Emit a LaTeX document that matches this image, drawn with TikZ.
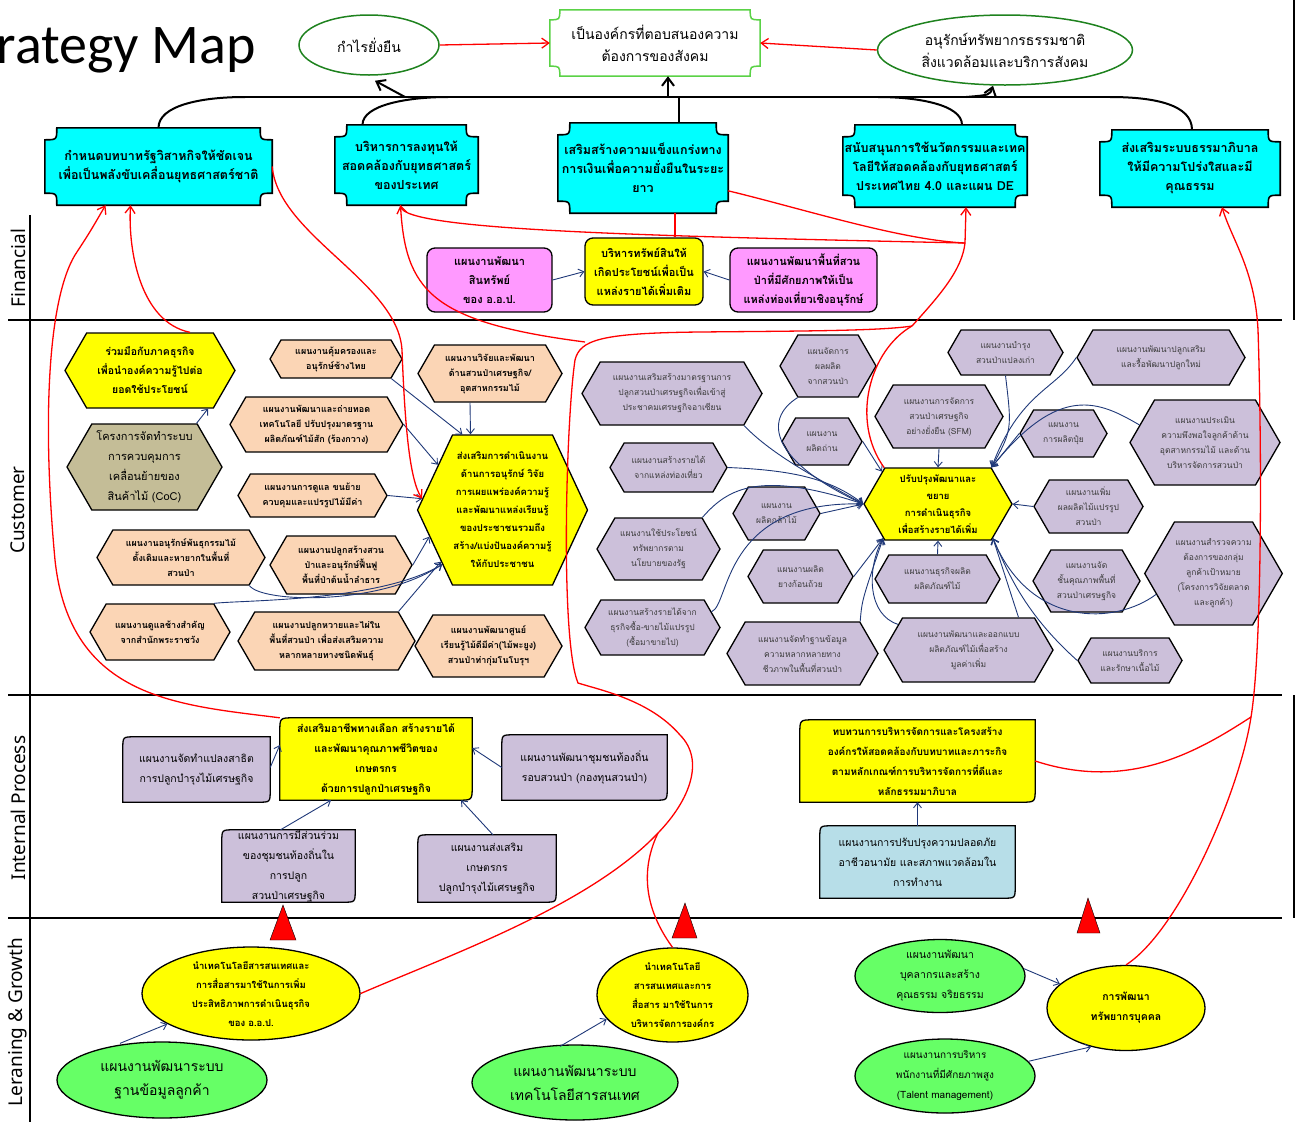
\documentclass[tikz,border=0pt]{standalone}
\usepackage{fontspec}
\setmainfont[Script=Thai]{Loma}
\newfontfamily\titlefont{Carlito}
\newfontfamily\rowfont{Noto Sans}
\usepackage{tikz}
\usetikzlibrary{shapes.geometric, shapes.symbols, calc, backgrounds, arrows.meta}
\definecolor{cyanbox}{RGB}{0,255,255}
\definecolor{yelbox}{RGB}{255,255,0}
\definecolor{peachbox}{RGB}{251,213,181}
\definecolor{lavbox}{RGB}{204,192,218}
\definecolor{khakibox}{RGB}{196,189,151}
\definecolor{pinkbox}{RGB}{255,153,255}
\definecolor{greenell}{RGB}{102,255,102}
\definecolor{bluebox}{RGB}{183,222,232}
\definecolor{ringgreen}{RGB}{30,130,30}
\definecolor{plaquegreen}{RGB}{90,210,70}
\definecolor{linknavy}{RGB}{31,56,120}
\definecolor{lavtext}{RGB}{60,60,60}

% box with scooped corners, drawn behind a node
\newcommand{\plaque}[3][]{%
  \begin{scope}[on background layer]
  \draw[#1] ($(#2.north west)+(#3,0)$) -- ($(#2.north east)+(-#3,0)$)
    .. controls ($(#2.north east)+(-#3,#3)$) .. ($(#2.north east)+(0,#3)$)
    -- ($(#2.south east)+(0,-#3)$)
    .. controls ($(#2.south east)+(-#3,-#3)$) .. ($(#2.south east)+(-#3,0)$)
    -- ($(#2.south west)+(#3,0)$)
    .. controls ($(#2.south west)+(#3,-#3)$) .. ($(#2.south west)+(0,-#3)$)
    -- ($(#2.north west)+(0,#3)$)
    .. controls ($(#2.north west)+(#3,#3)$) .. ($(#2.north west)+(#3,0)$) -- cycle;
  \end{scope}}
% box with two rounded corners (top left, bottom right)
\newcommand{\ipshape}[3][]{%
  \begin{scope}[on background layer]
  \draw[#1] ($(#2.north west)+(0,#3)$) .. controls (#2.north west) .. ($(#2.north west)+(#3,0)$)
    -- (#2.north east) -- ($(#2.south east)+(0,-#3)$)
    .. controls (#2.south east) .. ($(#2.south east)+(-#3,0)$)
    -- (#2.south west) -- cycle;
  \end{scope}}

\tikzset{
  goal/.style={align=center, inner sep=0pt, font=\fontsize{12.5}{19}\selectfont\bfseries},
  top ring/.style={ellipse, draw=ringgreen, line width=1.5pt, fill=white, align=center, inner sep=0pt, font=\fontsize{14}{22}\selectfont},
  finbox/.style={rectangle, rounded corners=8pt, draw, line width=1.3pt, align=center, inner sep=1pt, font=\fontsize{11}{19}\selectfont\bfseries},
  hexbox/.style={signal, signal to=east and west, signal pointer angle=120, draw, line width=1.3pt, align=center, inner sep=1pt},
  peach/.style={hexbox, fill=peachbox, font=\fontsize{9}{15}\selectfont\bfseries},
  lav/.style={hexbox, fill=lavbox, text=lavtext, font=\fontsize{8.5}{15}\selectfont},
  hexyel/.style={hexbox, fill=yelbox, font=\fontsize{9.5}{18}\selectfont\bfseries},
  ipbox/.style={align=center, inner sep=0pt, font=\fontsize{10.5}{20}\selectfont},
  ring/.style={ellipse, draw, line width=1.3pt, align=center, inner sep=0pt},
  link/.style={-{Straight Barb[length=5pt,width=8pt]}, draw=linknavy, line width=0.9pt},
  redlink/.style={draw=red, line width=1.3pt},
  redtip/.style={-{Straight Barb[length=7pt,width=10pt]}},
  bustip/.style={-{Straight Barb[length=8pt,width=12pt]}},
  rowlabel/.style={rotate=90, font=\rowfont\fontsize{19}{22}\selectfont},
}

\begin{document}
\begin{tikzpicture}[x=1pt, y=-1pt]
    \useasboundingbox (0,0) rectangle (1297,1122);
    \clip (0,0) rectangle (1297,1122);

    % Title and row labels
    \node[anchor=base east, inner sep=0pt, font=\titlefont\fontsize{56}{60}\selectfont] (title) at (256,63) {Strategy Map};
    \node[rowlabel] (rowfin) at (18,268) {Financial};
    \node[rowlabel] (rowcus) at (18,510) {Customer};
    \node[rowlabel] (rowint) at (18,808) {Internal Process};
    \node[rowlabel] (rowlrn) at (18,1022) {Leraning \& Growth};

    % Frame
    \draw[line width=2.5pt] (30,215) -- (30,1122);
    \draw[line width=2.5pt] (8,320) -- (1282,320);
    \draw[line width=2.5pt] (8,695) -- (1282,695);
    \draw[line width=2.5pt] (8,918) -- (1282,918);
    \draw[line width=2.5pt] (1294,0) -- (1294,320);
    \draw[line width=2.5pt] (1294,695) -- (1294,918);

    % Top goals
    \node[top ring, minimum width=140, minimum height=60] (T1) at (369,45) {กำไรยั่งยืน};
    \node[goal, font=\fontsize{14}{22}\selectfont, minimum width=210, minimum height=66] (T2) at (655,43) {เป็นองค์กรที่ตอบสนองความ\\ต้องการของสังคม};
    \plaque[draw=plaquegreen, line width=1.5pt, fill=white]{T2}{10}
    \node[top ring, minimum width=255, minimum height=70] (T3) at (1005,50) {อนุรักษ์ทรัพยากรธรรมชาติ\\สิ่งแวดล้อมและบริการสังคม};
    \draw[redlink, redtip] (T1.east) -- (T2.west);
    \draw[redlink, redtip] (T3.west) -- (T2.east);

    % Strategic issues
    \node[goal, minimum width=227, minimum height=77] (S1) at (158.5,166.5) {กำหนดบทบาทรัฐวิสาหกิจให้ชัดเจน\\เพื่อเป็นพลังขับเคลื่อนยุทธศาสตร์ชาติ};
    \plaque[draw, line width=1.6pt, fill=cyanbox]{S1}{12}
    \node[goal, minimum width=143, minimum height=80] (S2) at (406.5,165) {บริหารการลงทุนให้\\สอดคล้องกับยุทธศาสตร์\\ของประเทศ};
    \plaque[draw, line width=1.6pt, fill=cyanbox]{S2}{12}
    \node[goal, minimum width=170, minimum height=90] (S3) at (643,168) {เสริมสร้างความแข็งแกร่งทาง\\การเงินเพื่อความยั่งยืนในระยะ\\ยาว};
    \plaque[draw, line width=1.6pt, fill=cyanbox]{S3}{12}
    \node[goal, minimum width=184, minimum height=82] (S4) at (935,166) {สนับสนุนการใช้นวัตกรรมและเทค\\โลยีให้สอดคล้องกับยุทธศาสตร์\\ประเทศไทย 4.0 และแผน DE};
    \plaque[draw, line width=1.6pt, fill=cyanbox]{S4}{12}
    \node[goal, minimum width=180, minimum height=77] (S5) at (1190,168.5) {ส่งเสริมระบบธรรมาภิบาล\\ให้มีความโปร่งใสและมี\\คุณธรรม};
    \plaque[draw, line width=1.6pt, fill=cyanbox]{S5}{12}

    % Bus to the goals
    \coordinate (busL) at (245,97);
    \coordinate (busR) at (1110,97);
    \coordinate (bus2) at (448,97);
    \coordinate (bus4) at (878,97);
    \coordinate (busT1) at (405,97);
    \coordinate (busT3) at (966,97);
    \draw[line width=2pt] (busL) -- (busR);
    \draw[line width=2pt] (S1.north) .. controls +(0,-22) and +(-45,0) .. (busL);
    \draw[line width=2pt] ($(S2.north)+(-44,0)$) .. controls +(0,-20) and +(-40,0) .. (bus2);
    \draw[line width=2pt] ($(S3.north)+(36,0)$) -- ($(S3.north)+(36,-26)$);
    \draw[line width=2pt] ($(S4.north)+(27,0)$) .. controls +(0,-20) and +(40,0) .. (bus4);
    \draw[line width=2pt] ($(S5.north)+(2,0)$) .. controls +(0,-25) and +(45,0) .. (busR);
    \draw[line width=2pt, bustip] ($(T2.south)+(13,21)$) -- ($(T2.south)+(13,0)$);
    \draw[line width=2pt, bustip] (busT1) .. controls (392,90) .. ($(T1.south)+(6,5)$);
    \draw[line width=2pt, bustip] (busT3) .. controls (990,95) .. ($(T3.south)+(-12,0)$);

    % Financial
    \node[finbox, fill=pinkbox, minimum width=125, minimum height=64] (F1) at (489.5,280) {แผนงานพัฒนา\\สินทรัพย์\\ของ อ.อ.ป.};
    \node[finbox, fill=yelbox, minimum width=118, minimum height=67] (F2) at (644,271.5) {บริหารทรัพย์สินให้\\เกิดประโยชน์เพื่อเป็น\\แหล่งรายได้เพิ่มเติม};
    \node[finbox, fill=pinkbox, minimum width=147, minimum height=64] (F3) at (803.5,280) {แผนงานพัฒนาพื้นที่สวน\\ป่าที่มีศักยภาพให้เป็น\\แหล่งท่องเที่ยวเชิงอนุรักษ์};
    \draw[link] (F1.east) -- (F2.west);
    \draw[link] (F3.west) -- (F2.east);

    % Customer, left group
    \node[hexyel, font=\fontsize{10.5}{19}\selectfont\bfseries, minimum width=170, minimum height=75] (C1) at (150,370.5) {ร่วมมือกับภาคธุรกิจ\\เพื่อนำองค์ความรู้ไปต่อ\\ยอดใช้ประโยชน์};
    \node[hexbox, fill=khakibox, font=\fontsize{11}{20}\selectfont, minimum width=155, minimum height=86] (C2) at (144.5,467) {โครงการจัดทำระบบ\\การควบคุมการ\\เคลื่อนย้ายของ\\สินค้าไม้ (CoC)};
    \node[peach, minimum width=132, minimum height=38] (P1) at (336,359) {แผนงานคุ้มครองและ\\อนุรักษ์ช้างไทย};
    \node[peach, minimum width=173, minimum height=55] (P2) at (316.5,424.5) {แผนงานพัฒนาและถ่ายทอด\\เทคโนโลยี ปรับปรุงมาตรฐาน\\ผลิตภัณฑ์ไม้สัก (ร้องกวาง)};
    \node[peach, minimum width=149, minimum height=43] (P3) at (312.5,495.5) {แผนงานการดูแล ขนย้าย\\ควบคุมและแปรรูปไม้มีค่า};
    \node[peach, minimum width=168, minimum height=55] (P4) at (181,557.5) {แผนงานอนุรักษ์พันธุกรรมไม้\\ดั้งเดิมและหายากในพื้นที่\\สวนป่า};
    \node[peach, minimum width=142, minimum height=58] (P5) at (341,565) {แผนงานปลูกสร้างสวน\\ป่าและอนุรักษ์ฟื้นฟู\\พื้นที่ป่าต้นน้ำลำธาร};
    \node[peach, minimum width=140, minimum height=56] (P6) at (160,632) {แผนงานดูแลช้างสำคัญ\\จากสำนักพระราชวัง};
    \node[peach, minimum width=177, minimum height=58] (P7) at (326.5,641) {แผนงานปลูกหวายและไผ่ใน\\พื้นที่สวนป่า เพื่อส่งเสริมความ\\หลากหลายทางชนิดพันธุ์};
    \node[peach, minimum width=147, minimum height=62] (P8) at (488.5,646) {แผนงานพัฒนาศูนย์\\เรียนรู้ไม้ดีมีค่า(ไม้พะยูง)\\สวนป่าท่ากุ่มโนโบรุฯ};
    \node[peach, minimum width=144, minimum height=57] (P9) at (490,373.5) {แผนงานวิจัยและพัฒนา\\ด้านสวนป่าเศรษฐกิจ/\\อุตสาหกรรมไม้};
    \node[hexyel, signal pointer angle=130, minimum width=165, minimum height=150] (Y1) at (502.5,510) {ส่งเสริมการดำเนินงาน\\ด้านการอนุรักษ์ วิจัย\\การเผยแพร่องค์ความรู้\\และพัฒนาแหล่งเรียนรู้\\ของประชาชนรวมถึง\\สร้าง/แบ่งปันองค์ความรู้\\ให้กับประชาชน};
    \draw[link] (C2.40) -- ($(C1.south)+(58,0)$);
    \draw[link] (P1.south east) -- (Y1.118);
    \draw[link] (P2.east) -- (Y1.145);
    \draw[link] ($(P9.south)+(-20,0)$) -- ($(Y1.north)+(-32,0)$);
    \draw[link] (P3.east) -- (Y1.172);
    \draw[link] (P5.east) -- (Y1.200);
    \draw[link] (P7.north east) -- (Y1.220);
    \draw[link] (P4.south east) .. controls (262,603) and (380,606) .. (Y1.222);
    \draw[link] (P6.north east) .. controls (240,600) and (380,602) .. (Y1.222);

    % Customer, right group
    \node[lav, minimum width=180, minimum height=63] (R1) at (672,393.5) {แผนงานเสริมสร้างมาตรฐานการ\\ปลูกสวนป่าเศรษฐกิจเพื่อเข้าสู่\\ประชาคมเศรษฐกิจอาเซียน};
    \node[lav, minimum width=96, minimum height=62] (R2) at (828,366) {แผนจัดการ\\ผลผลิต\\จากสวนป่า};
    \node[lav, minimum width=80, minimum height=47] (R3) at (822,441.5) {แผนงาน\\ผลิตถ่าน};
    \node[lav, minimum width=117, minimum height=49] (R4) at (668.5,467.5) {แผนงานสร้างรายได้\\จากแหล่งท่องเที่ยว};
    \node[lav, minimum width=87, minimum height=53] (R5) at (776.5,513.5) {แผนงาน\\ผลิตกล้าไม้};
    \node[lav, minimum width=123, minimum height=62] (R6) at (658.5,549) {แผนงานใช้ประโยชน์\\ทรัพยากรตาม\\นโยบายของรัฐ};
    \node[lav, minimum width=105, minimum height=53] (R7) at (800.5,576.5) {แผนงานผลิต\\ยางก้อนถ้วย};
    \node[lav, minimum width=135, minimum height=55] (R8) at (652.5,627.5) {แผนงานสร้างรายได้จาก\\ธุรกิจซื้อ-ขายไม้แปรรูป\\(ซื้อมาขายไป)};
    \node[lav, minimum width=151, minimum height=63] (R9) at (802.5,653.5) {แผนงานจัดทำฐานข้อมูล\\ความหลากหลายทาง\\ชีวภาพในพื้นที่สวนป่า};
    \node[hexyel, minimum width=148, minimum height=72, font=\fontsize{9.5}{17}\selectfont\bfseries] (Y2) at (938,504) {ปรับปรุงพัฒนาและ\\ขยาย\\การดำเนินธุรกิจ\\เพื่อสร้างรายได้เพิ่ม};
    \node[lav, minimum width=115, minimum height=45] (R10) at (1005.5,352.5) {แผนงานบำรุง\\สวนป่าแปลงเก่า};
    \node[lav, minimum width=168, minimum height=55] (R11) at (1161,357.5) {แผนงานพัฒนาปลูกเสริม\\และรื้อพัฒนาปลูกใหม่};
    \node[lav, minimum width=128, minimum height=63] (R12) at (939,416.5) {แผนงานการจัดการ\\สวนป่าเศรษฐกิจ\\อย่างยั่งยืน (SFM)};
    \node[lav, minimum width=87, minimum height=47] (R13) at (1063.5,433.5) {แผนงาน\\การผลิตปุ๋ย};
    \node[lav, minimum width=150, minimum height=85] (R14) at (1205,442.5) {แผนงานประเมิน\\ความพึงพอใจลูกค้าด้าน\\อุตสาหกรรมไม้ และด้าน\\บริหารจัดการสวนป่า};
    \node[lav, minimum width=109, minimum height=53] (R15) at (1088.5,506.5) {แผนงานเพิ่ม\\ผลผลิตไม้แปรรูป\\สวนป่า};
    \node[lav, minimum width=125, minimum height=48] (R16) at (937.5,579) {แผนงานธุรกิจผลิต\\ผลิตภัณฑ์ไม้};
    \node[lav, minimum width=107, minimum height=62] (R17) at (1086.5,581) {แผนงานจัด\\ชั้นคุณภาพพื้นที่\\สวนป่าเศรษฐกิจ};
    \node[lav, minimum width=133, minimum height=103] (R18) at (1213.5,573.5) {แผนงานสำรวจความ\\ต้องการของกลุ่ม\\ลูกค้าเป้าหมาย\\(โครงการวิจัยตลาด\\และลูกค้า)};
    \node[lav, minimum width=169, minimum height=64] (R19) at (968.5,650) {แผนงานพัฒนาและออกแบบ\\ผลิตภัณฑ์ไม้เพื่อสร้าง\\มูลค่าเพิ่ม};
    \node[lav, minimum width=104, minimum height=45] (R20) at (1130,660.5) {แผนงานบริการ\\และรักษาเนื้อไม้};
    \draw[link] (R1.south east) .. controls (772,455) and (820,480) .. (Y2.west);
    \draw[link] (R2.south west) .. controls (762,420) and (772,462) .. (Y2.west);
    \draw[link] (R4.east) .. controls (790,470) and (830,478) .. (Y2.west);
    \draw[link] (R6.north east) .. controls (728,488) and (760,470) .. (Y2.west);
    \draw[link] (R8.15) .. controls (730,605) and (722,500) .. (Y2.west);
    \draw[link] (R5.east) -- (Y2.west);
    \draw[link] (R3.east) -- (Y2.150);
    \draw[link] (R7.east) -- (Y2.212);
    \draw[link] (R9.north east) .. controls (862,600) .. (Y2.212);
    \draw[link] (R19.160) .. controls (868,615) and (866,570) .. (Y2.212);
    \draw[link] (R12.south) -- (Y2.north);
    \draw[link] (R10.south) .. controls (1012,430) .. (Y2.north east);
    \draw[link] (R11.west) .. controls (1055,390) and (1020,392) .. (Y2.north east);
    \draw[link] (R14.165) .. controls (1100,402) and (1060,382) .. (Y2.north east);
    \draw[link] (R13.west) -- (Y2.north east);
    \draw[link] (R15.west) -- (Y2.east);
    \draw[link] (R16.north) -- (Y2.south);
    \draw[link] ($(R19.north)+(50,0)$) -- (Y2.-32);
    \draw[link] (R20.west) .. controls (1023,612) and (1007,570) .. (Y2.-32);
    \draw[link] (R18.200) .. controls (1115,625) and (1030,628) .. (Y2.-32);

    % Internal process
    \node[ipbox, font=\fontsize{10.5}{20}\selectfont\bfseries, minimum width=192, minimum height=82] (I1) at (376,759) {ส่งเสริมอาชีพทางเลือก สร้างรายได้\\และพัฒนาคุณภาพชีวิตของ\\เกษตรกร\\ด้วยการปลูกป่าเศรษฐกิจ};
    \ipshape[draw, line width=1.3pt, fill=yelbox]{I1}{14}
    \node[ipbox, minimum width=147, minimum height=65] (I2) at (196.5,769.5) {แผนงานจัดทำแปลงสาธิต\\การปลูกบำรุงไม้เศรษฐกิจ};
    \ipshape[draw, line width=1.3pt, fill=lavbox]{I2}{12}
    \node[ipbox, minimum width=165, minimum height=65] (I3) at (584.5,767.5) {แผนงานพัฒนาชุมชนท้องถิ่น\\รอบสวนป่า (กองทุนสวนป่า)};
    \ipshape[draw, line width=1.3pt, fill=lavbox]{I3}{12}
    \node[ipbox, minimum width=133, minimum height=72] (I4) at (288.5,866) {แผนงานการมีส่วนร่วม\\ของชุมชนท้องถิ่นใน\\การปลูก\\สวนป่าเศรษฐกิจ};
    \ipshape[draw, line width=1.3pt, fill=lavbox]{I4}{12}
    \node[ipbox, minimum width=138, minimum height=67] (I5) at (487,868.5) {แผนงานส่งเสริม\\เกษตรกร\\ปลูกบำรุงไม้เศรษฐกิจ};
    \ipshape[draw, line width=1.3pt, fill=lavbox]{I5}{12}
    \node[ipbox, font=\fontsize{10}{20}\selectfont\bfseries, minimum width=235, minimum height=82] (I6) at (917.5,761) {ทบทวนการบริหารจัดการและโครงสร้าง\\องค์กรให้สอดคล้องกับบทบาทและภาระกิจ\\ตามหลักเกณฑ์การบริหารจัดการที่ดีและ\\หลักธรรมมาภิบาล};
    \ipshape[draw, line width=1.3pt, fill=yelbox]{I6}{14}
    \node[ipbox, minimum width=195, minimum height=72] (I7) at (917.5,862) {แผนงานการปรับปรุงความปลอดภัย\\อาชีวอนามัย และสภาพแวดล้อมใน\\การทำงาน};
    \ipshape[draw, line width=1.3pt, fill=bluebox]{I7}{12}
    \draw[link] ($(I2.east)+(0,-2)$) -- ($(I1.west)+(0,-14)$);
    \draw[link] (I3.west) -- ($(I1.east)+(0,-11)$);
    \draw[link] ($(I4.north)+(-8,0)$) -- ($(I1.south)+(-45,0)$);
    \draw[link] ($(I5.north)+(6,0)$) -- ($(I1.south)+(85,0)$);
    \draw[link] (I7.north) -- (I6.south);

    % Markers
    \filldraw[fill=red, draw=black] (283,905) -- (296,940) -- (270,940) -- cycle;
    \filldraw[fill=red, draw=black] (685,903) -- (697,938) -- (672,938) -- cycle;
    \filldraw[fill=red, draw=black] (1088,898) -- (1100,933) -- (1077,933) -- cycle;

    % Learning and growth
    \node[ring, fill=yelbox, minimum width=218, minimum height=93, font=\fontsize{9.5}{19}\selectfont\bfseries] (L1) at (251,993.5) {นำเทคโนโลยีสารสนเทศและ\\การสื่อสารมาใช้ในการเพิ่ม\\ประสิทธิภาพการดำเนินธุรกิจ\\ของ อ.อ.ป.};
    \node[ring, fill=greenell, minimum width=210, minimum height=76, font=\fontsize{14}{24}\selectfont] (L2) at (162,1080) {แผนงานพัฒนาระบบ\\ฐานข้อมูลลูกค้า};
    \node[ring, fill=yelbox, minimum width=151, minimum height=94, font=\fontsize{9.5}{19}\selectfont\bfseries] (L3) at (672.5,995) {นำเทคโนโลยี\\สารสนเทศและการ\\สื่อสาร มาใช้ในการ\\บริหารจัดการองค์กร};
    \node[ring, fill=greenell, minimum width=206, minimum height=75, font=\fontsize{14}{24}\selectfont] (L4) at (575,1082.5) {แผนงานพัฒนาระบบ\\เทคโนโลยีสารสนเทศ};
    \node[ring, fill=greenell, minimum width=170, minimum height=73, font=\fontsize{10.5}{20}\selectfont] (L5) at (940,976) {แผนงานพัฒนา\\บุคลากรและสร้าง\\คุณธรรม จริยธรรม};
    \node[ring, fill=yelbox, minimum width=158, minimum height=85, font=\fontsize{10.5}{20}\selectfont\bfseries] (L6) at (1126,1008) {การพัฒนา\\ทรัพยากรบุคคล};
    \node[ring, fill=greenell, minimum width=180, minimum height=74, font=\fontsize{10}{20}\selectfont] (L7) at (945,1076) {แผนงานการบริหาร\\พนักงานที่มีศักยภาพสูง\\(Talent management)};
    \draw[link] ($(L2.north)+(-42,2)$) -- (L1.200);
    \draw[link] ($(L4.north)+(-15,2)$) -- (L3.200);
    \draw[link] (L5.5) -- (L6.160);
    \draw[link] (L7.10) -- (L6.228);

    % Red links between levels
    \coordinate (hubA) at (965,243);
    \coordinate (hubB) at (658,833);
    \coordinate (hubC) at (912,326);
    \coordinate (hubD) at (1251,717);
    \draw[redlink] ($(F2.north)+(31,0)$) -- ($(S3.south)+(32,0)$);
    \draw[redlink, redtip] (S1.east) .. controls (278,235) and (398,282) .. (402,350) .. controls (405,430) and (410,480) .. (Y1.172);
    \draw[redlink, redtip] (I1.north west) .. controls (180,705) and (70,700) .. (55,560) .. controls (42,420) and (48,300) .. (75,255) .. controls (90,232) .. ($(S1.south)+(-53,0)$);
    \draw[redlink, redtip] ($(C1.north)+(40,0)$) .. controls (140,322) and (128,250) .. ($(S1.south)+(-28,0)$);
    \draw[redlink, redtip] (hubA) .. controls (640,236) and (405,230) .. ($(S2.south)+(-6,0)$);
    \draw[redlink] ($(S2.south)+(-6,0)$) .. controls (405,290) and (430,322) .. (585,342);
    \draw[redlink] (S3.-15) .. controls (800,208) and (900,240) .. (hubA);
    \draw[redlink] (L1.east) .. controls (450,955) and (590,905) .. (hubB) .. controls (690,800) and (705,760) .. (680,735) .. controls (650,700) and (600,690) .. (578,683) .. controls (560,640) and (566,420) .. (575,360) .. controls (580,340) and (600,333) .. (700,332) .. controls (800,331) and (880,331) .. (hubC);
    \draw[redlink, redtip] (hubC) .. controls (940,295) and (962,270) .. (hubA) -- ($(S4.south)+(31,0)$);
    \draw[redlink] (L3.north) .. controls (638,900) and (645,860) .. (hubB);
    \draw[redlink] (Y2.north west) .. controls (850,420) and (870,350) .. (hubC);
    \draw[redlink, redtip] (L6.north) .. controls (1180,930) and (1240,790) .. (hubD) .. controls (1262,650) and (1262,450) .. (1258,330) .. controls (1255,270) and (1232,240) .. ($(S5.south)+(32,0)$);
    \draw[redlink] (I6.east) .. controls (1130,792) and (1200,750) .. (hubD);
\end{tikzpicture}
\end{document}
